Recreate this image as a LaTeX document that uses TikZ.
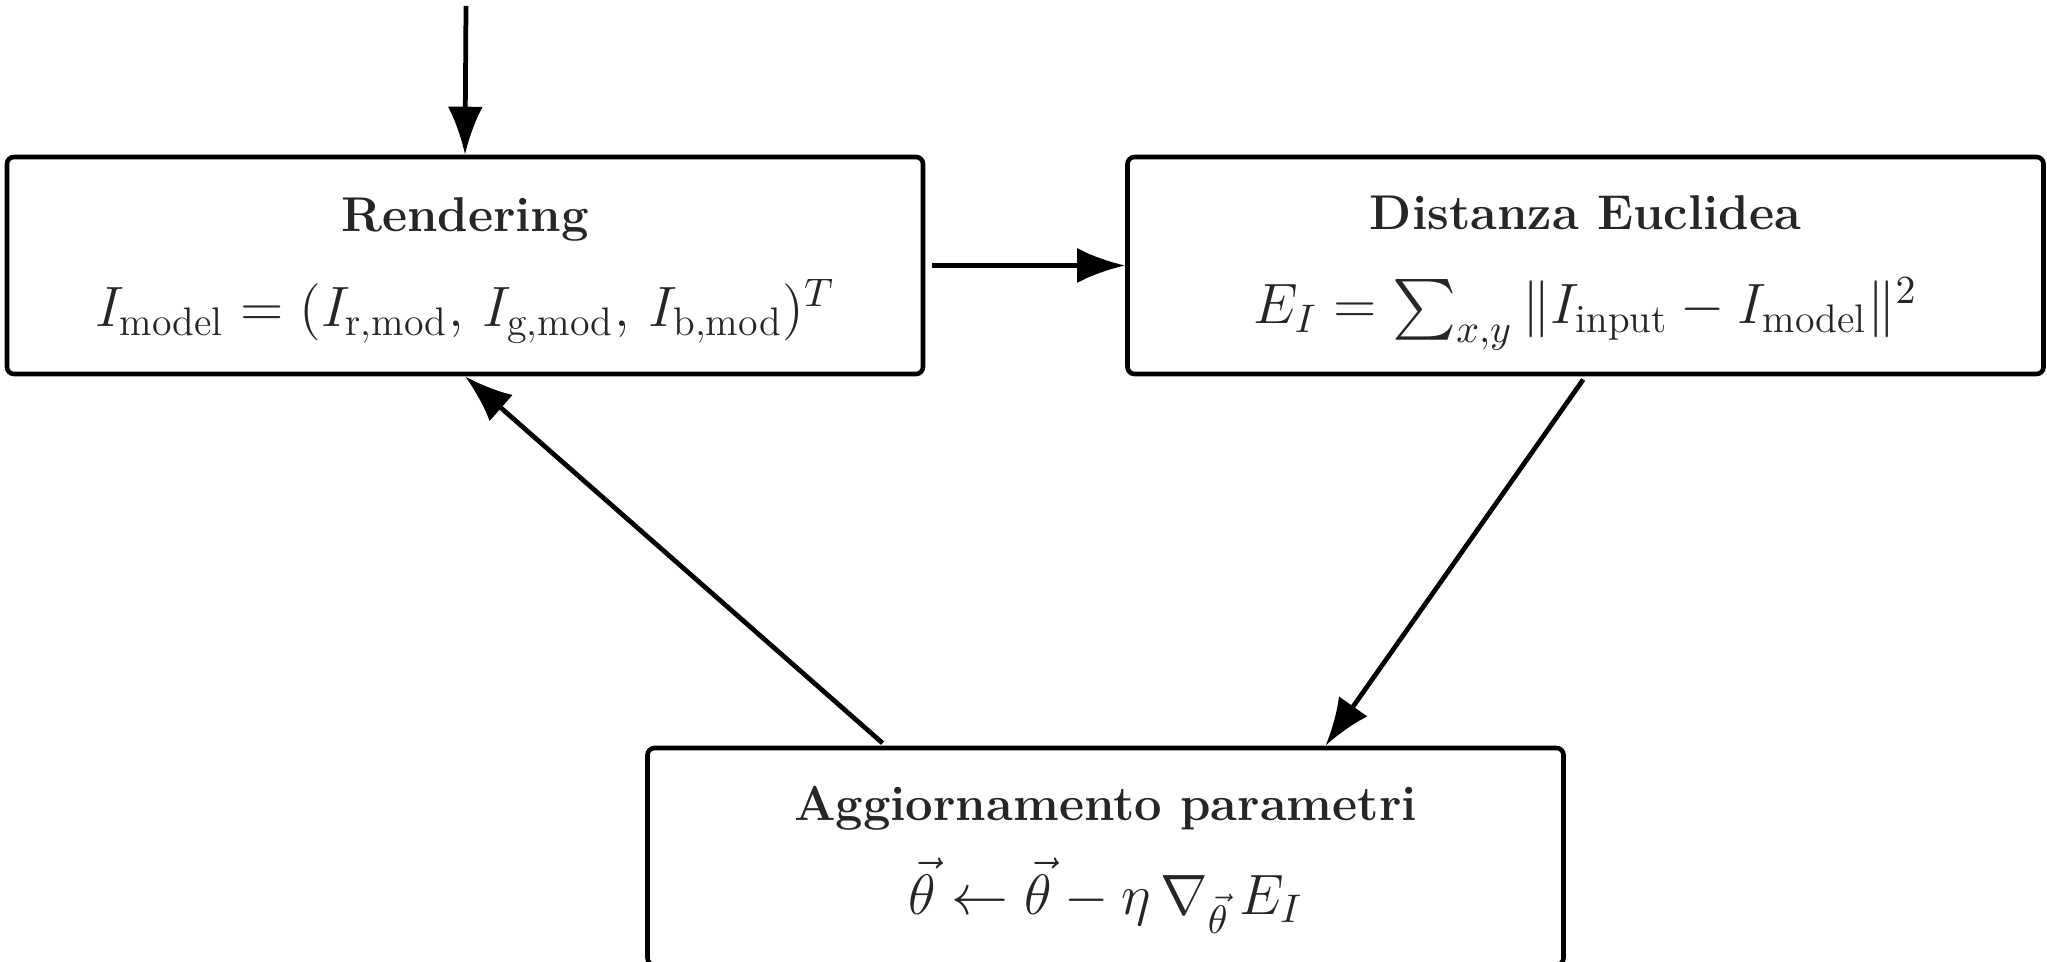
\RequirePackage{fix-cm}
\documentclass[tikz,border=0pt]{standalone}
\usepackage{amsmath}
\usetikzlibrary{arrows.meta,calc}
\definecolor{txt}{HTML}{262626}
\begin{document}
\begin{tikzpicture}[
  box/.style={draw=black, line width=1.3pt, rounded corners=0.07cm, minimum width=9.16cm, minimum height=2.17cm, inner sep=0pt},
  lbl/.style={anchor=base, text=txt, inner sep=0pt, font=\fontsize{13.9}{16}\selectfont},
  mlbl/.style={anchor=base, text=txt, inner sep=0pt, font=\fontsize{16.2}{18}\selectfont},
  conn/.style={line width=1.35pt, -{Latex[length=0.48cm, width=0.35cm]}}
]
\useasboundingbox (0,0) rectangle (20.47,9.61);
% boxes
\node[box] (ren) at (4.65,6.955) {};
\node[box] (dist) at (15.855,6.955) {};
\node[box] (agg) at (11.055,1.045) {};
% texts
\node[lbl] (rent) at (4.65,7.29) {\textbf{Rendering}};
\node[mlbl] (renm) at (4.65,6.34) {$I_{\text{model}} = (I_{\text{r,mod}},\, I_{\text{g,mod}},\, I_{\text{b,mod}})^T$};
\node[lbl] (distt) at (15.855,7.31) {\textbf{Distanza Euclidea}};
\node[mlbl] (distm) at (15.855,6.37) {$E_I = \sum_{x,y} \, \lVert I_{\text{input}} - I_{\text{model}} \rVert^2$};
\node[lbl] (aggt) at (11.055,1.41) {\textbf{Aggiornamento parametri}};
\node[mlbl] (aggm) at (11.055,0.47) {$\vec{\theta} \leftarrow \vec{\theta} - \eta\, \nabla_{\vec{\theta}}\, E_I$};
% connectors
\coordinate (start) at (4.66,9.55);
\draw[conn] (start) -- (ren.north);
\draw[conn, shorten <=0.07cm] (ren.east) -- (dist.west);
\draw[conn, shorten <=0.04cm] (dist.south) -- ([xshift=2.2cm]agg.north);
\draw[conn, shorten <=0.04cm] ([xshift=-2.2cm]agg.north) -- (ren.south);
\end{tikzpicture}
\end{document}
